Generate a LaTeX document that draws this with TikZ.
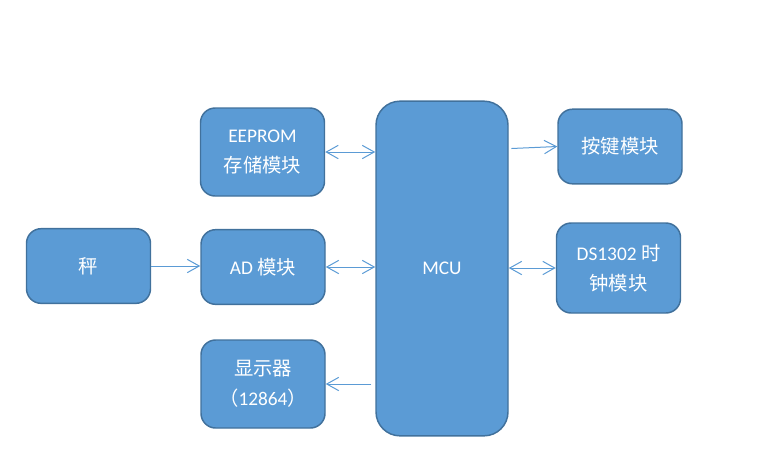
\documentclass[tikz,border=0pt]{standalone}
\usepackage{fontspec}
\setmainfont{Carlito}
\newfontfamily\cjk{Noto Sans CJK SC}
\usepackage{tikz}
\usetikzlibrary{arrows.meta}
\usetikzlibrary{positioning}
\definecolor{boxfill}{HTML}{5B9BD5}
\definecolor{boxline}{HTML}{41719C}

\begin{document}
\begin{tikzpicture}[x=0.75pt,y=-0.75pt]
  \tikzset{module/.style = {shape=rectangle,rounded corners=11pt,draw=boxline,line width=1.1pt,fill=boxfill,text=white,align=center,font=\fontsize{14.5}{22.5}\selectfont,minimum width=93pt,minimum height=56pt,inner sep=2pt}}
    \tikzset{tallmodule/.style = {module,minimum height=66pt}}
    \tikzset{mcu/.style = {module,rounded corners=18pt,minimum width=99pt,minimum height=251pt}}
  \tikzset{link/.style = {draw=boxfill,line width=0.75pt}}
  \tikzset{%
  tipA/.tip={Straight Barb[length=9pt,width=10pt]},
}

  \useasboundingbox (0,0) rectangle (759,469);

	\node[mcu] (MCU) at (442,268.5) {MCU};

	\node[tallmodule] (EE) at (262.5,152) {EEPROM\\{\cjk 存储模块}};
	\node[module] (AD) at (263,267) {AD {\cjk 模块}};
	\node[tallmodule] (LCD) at (263,384) {{\cjk 显示器}\\{\cjk （}12864{\cjk ）}};
	\node[module] (SC) at (88.5,266) {{\cjk 秤}};

	\node[module] (KEY) at (620,146.5) {{\cjk 按键模块}};
	\node[tallmodule,minimum height=67.5pt] (DS) at (618.5,268) {DS1302 {\cjk 时}\\{\cjk 钟模块}};

    \foreach \n in {EE, AD}
    \draw[link,tipA-tipA] (\n.east) -- (\n.east -| MCU.west);

    \draw[link,-tipA] (SC.east) -- (SC.east -| AD.west);
    \draw[link,-tipA] ([xshift=-3pt]MCU.west |- LCD.east) -- (LCD.east);
    \draw[link,-tipA] ([xshift=2pt,yshift=-1.5pt]MCU.east |- KEY.west) -- (KEY.west);
    \draw[link,tipA-tipA] (MCU.east |- DS.west) -- (DS.west);

\end{tikzpicture}
\end{document}
